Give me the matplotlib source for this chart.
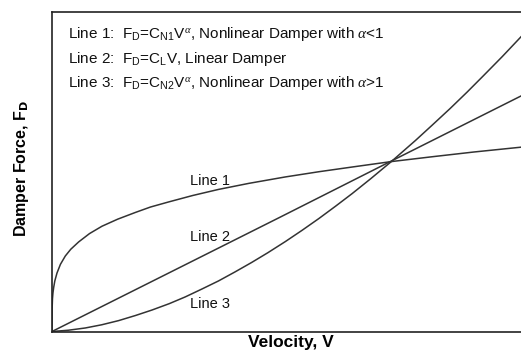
import numpy as np
import matplotlib
matplotlib.use("Agg")
import matplotlib.pyplot as plt

plt.rcParams['font.family'] = ['Liberation Sans', 'DejaVu Sans']
plt.rcParams['mathtext.fontset'] = 'custom'
plt.rcParams['mathtext.rm'] = 'Liberation Sans'
plt.rcParams['mathtext.it'] = 'Liberation Serif:italic'

# curves (velocity, force), normalised to the axes
line1_v = [0.0, 0.0002, 0.001, 0.002, 0.0036, 0.006, 0.0107, 0.018, 0.0284, 0.04, 0.0569,
           0.08, 0.1066, 0.14, 0.1777, 0.21, 0.249, 0.30, 0.355, 0.42, 0.4975, 0.57, 0.640,
           0.7235, 0.81, 0.90, 1.0]
line1_f = [0.0, 0.068, 0.102, 0.120, 0.138, 0.158, 0.183, 0.210, 0.236, 0.257, 0.280,
           0.306, 0.329, 0.351, 0.372, 0.389, 0.405, 0.425, 0.444, 0.463, 0.483, 0.4995, 0.514,
           0.531, 0.546, 0.561, 0.576]

line2_v = [0.0, 0.241, 0.486, 0.728, 1.0]
line2_f = [0.0, 0.177, 0.357, 0.536, 0.736]

line3_v = [0.0, 0.035, 0.071, 0.106, 0.142, 0.178, 0.213, 0.25, 0.284, 0.32, 0.355, 0.39, 0.426,
           0.46, 0.4975, 0.533, 0.569, 0.605, 0.640, 0.68, 0.7235, 0.775, 0.81, 0.849, 0.885,
           0.919, 0.96, 1.0]
line3_f = [0.0, 0.004, 0.011, 0.021, 0.034, 0.050, 0.067, 0.087, 0.108, 0.133, 0.158, 0.186, 0.216,
           0.246, 0.281, 0.316, 0.353, 0.392, 0.431, 0.478, 0.531, 0.597, 0.644, 0.697, 0.748,
           0.798, 0.859, 0.921]

legend_lines = [
    r"Line 1:  F$_\mathrm{D}$=C$_\mathrm{N1}$V$^{\alpha}$, Nonlinear Damper with $\alpha$<1",
    r"Line 2:  F$_\mathrm{D}$=C$_\mathrm{L}$V, Linear Damper",
    r"Line 3:  F$_\mathrm{D}$=C$_\mathrm{N2}$V$^{\alpha}$, Nonlinear Damper with $\alpha$>1",
]
curve_names = ["Line 1", "Line 2", "Line 3"]

fig = plt.figure(figsize=(5.21, 3.52), dpi=100)
ax = fig.add_axes([52 / 521, 20.5 / 352, 469 / 521, 320 / 352])

col = '#333333'
ax.plot(line1_v, line1_f, color=col, lw=1.1)
ax.plot(line2_v, line2_f, color=col, lw=1.1)
ax.plot(line3_v, line3_f, color=col, lw=1.1)

ax.set_xlim(0, 1)
ax.set_ylim(0, 1)
ax.set_xticks([])
ax.set_yticks([])
for side in ['left', 'bottom', 'top']:
    ax.spines[side].set_color('#222222')
    ax.spines[side].set_linewidth(1.2)
ax.spines['right'].set_visible(False)

for i, txt in enumerate(legend_lines):
    ax.text(0.034, 0.916 - i * 0.0755, txt, transform=ax.transAxes,
            fontsize=11, va='baseline', ha='left', color='#111111')

for name, y in zip(curve_names, [0.458, 0.283, 0.074]):
    ax.text(0.294, y, name, transform=ax.transAxes, fontsize=10.5,
            va='baseline', ha='left', color='#111111')

ax.text(0.51, -0.048, "Velocity, V", transform=ax.transAxes, fontsize=12.5,
        fontweight='bold', ha='center', va='baseline')
ax.text(-0.066, 0.508, r"Damper Force, F$_\mathbf{D}$", transform=ax.transAxes,
        fontsize=11.5, fontweight='bold', ha='center', va='center', rotation=90)

fig.savefig("out.png", dpi=100)
